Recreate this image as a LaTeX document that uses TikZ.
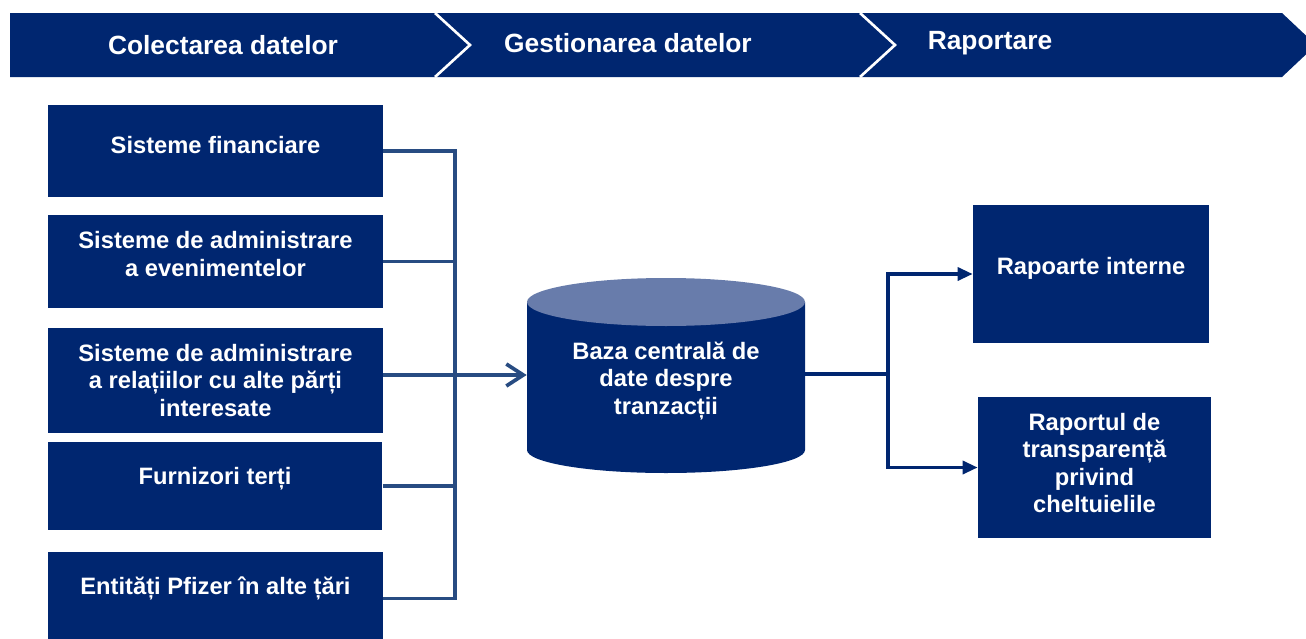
\documentclass[tikz,border=0pt]{standalone}
\usepackage{fontspec}
\setmainfont{Liberation Sans}
\usetikzlibrary{arrows.meta}

\definecolor{pfblue}{RGB}{0,38,112}
\definecolor{pftop}{RGB}{104,124,171}
\definecolor{pfline}{RGB}{40,76,130}

\tikzset{
	boxtext/.style={text=white, font=\bfseries\fontsize{13.5}{15.6}\selectfont, align=center},
	hdrtext/.style={text=white, font=\bfseries\fontsize{15}{18}\selectfont},
	srcbox/.style={fill=pfblue, minimum width=6.7cm, inner sep=0pt},
	repbox/.style={fill=pfblue, inner sep=0pt},
	link/.style={pfline, line width=2.1pt},
	outlink/.style={pfblue, line width=1.9pt},
}

\begin{document}
\begin{tikzpicture}[x=0.02cm, y=0.02cm]
	\useasboundingbox (0,0) rectangle (1306,-639);

	% header
	\fill[pfblue] (10,-13) -- (435,-13) -- (470,-45) -- (435,-77) -- (10,-77) -- cycle;
	\fill[pfblue] (435,-13) -- (860,-13) -- (895,-45) -- (860,-77) -- (435,-77) -- (470,-45) -- cycle;
	\fill[pfblue] (860,-13) -- (1282,-13) -- (1316,-45) -- (1282,-77) -- (860,-77) -- (895,-45) -- cycle;
	\draw[white, line width=1.5pt] (435,-13) -- (470,-45) -- (435,-77);
	\draw[white, line width=1.5pt] (860,-13) -- (895,-45) -- (860,-77);
	\node[hdrtext] (colect) at (223,-45) {Colectarea datelor};
	\node[hdrtext] (gest) at (628,-43) {Gestionarea datelor};
	\node[hdrtext] (rap) at (990,-43) {Raportare};

	% surse
	\node[srcbox, minimum height=1.84cm, label={[boxtext, yshift=0.12cm]center:Sisteme financiare}] (fin) at (215.5,-151) {};
	\node[srcbox, minimum height=1.86cm, label={[boxtext, yshift=0.15cm]center:Sisteme de administrare\\a evenimentelor}] (evt) at (215.5,-261.5) {};
	\node[srcbox, minimum height=2.1cm, label={[boxtext]center:Sisteme de administrare\\a relațiilor cu alte părți\\interesate}] (rel) at (215.5,-380.5) {};
	\node[srcbox, minimum height=1.76cm, label={[boxtext, yshift=0.14cm]center:Furnizori terți}] (furn) at (215,-486) {};
	\node[srcbox, minimum height=1.86cm, label={[boxtext, yshift=0.21cm]center:Entități Pfizer în alte țări}] (ent) at (215.5,-598.5) {};

	% baza de date
	\fill[pfblue] (527,-302) -- (527,-450) arc[start angle=180, end angle=360, x radius=139, y radius=23] -- (805,-302) -- cycle;
	\fill[pftop] (666,-302) ellipse[x radius=139, y radius=24];
	\node[boxtext, minimum width=5.56cm, minimum height=2.9cm, inner sep=0pt] (db) at (666,-381) {Baza centrală de\\date despre\\tranzacții};

	% rapoarte
	\node[repbox, minimum width=4.72cm, minimum height=2.76cm, label={[boxtext, yshift=0.12cm]center:Rapoarte interne}] (rint) at (1091,-274) {};
	\node[repbox, minimum width=4.66cm, minimum height=2.82cm, label={[boxtext, yshift=0.09cm]center:Raportul de\\transparență\\privind\\cheltuielile}] (rtr) at (1094.5,-467.5) {};

	\coordinate (hub) at (455,-375);
	\coordinate (jn) at (888,-374);

	\draw[link] (fin.east) -- (fin.east -| hub) -- (ent.east -| hub) -- (ent.east);
	\draw[link] (evt.east) -- (evt.east -| hub);
	\draw[link] (furn.east) -- (furn.east -| hub);
	\draw[link, -{Straight Barb[length=3.4mm, width=4.4mm]}] (rel.east |- hub) -- (db.west |- hub);

	\draw[outlink] (db.east |- jn) -- (jn);
	\draw[outlink, -{Triangle[length=3mm, width=2.6mm]}] (jn) |- (rint.west);
	\draw[outlink, -{Triangle[length=3mm, width=2.6mm]}] (jn) |- (rtr.west);
\end{tikzpicture}
\end{document}
